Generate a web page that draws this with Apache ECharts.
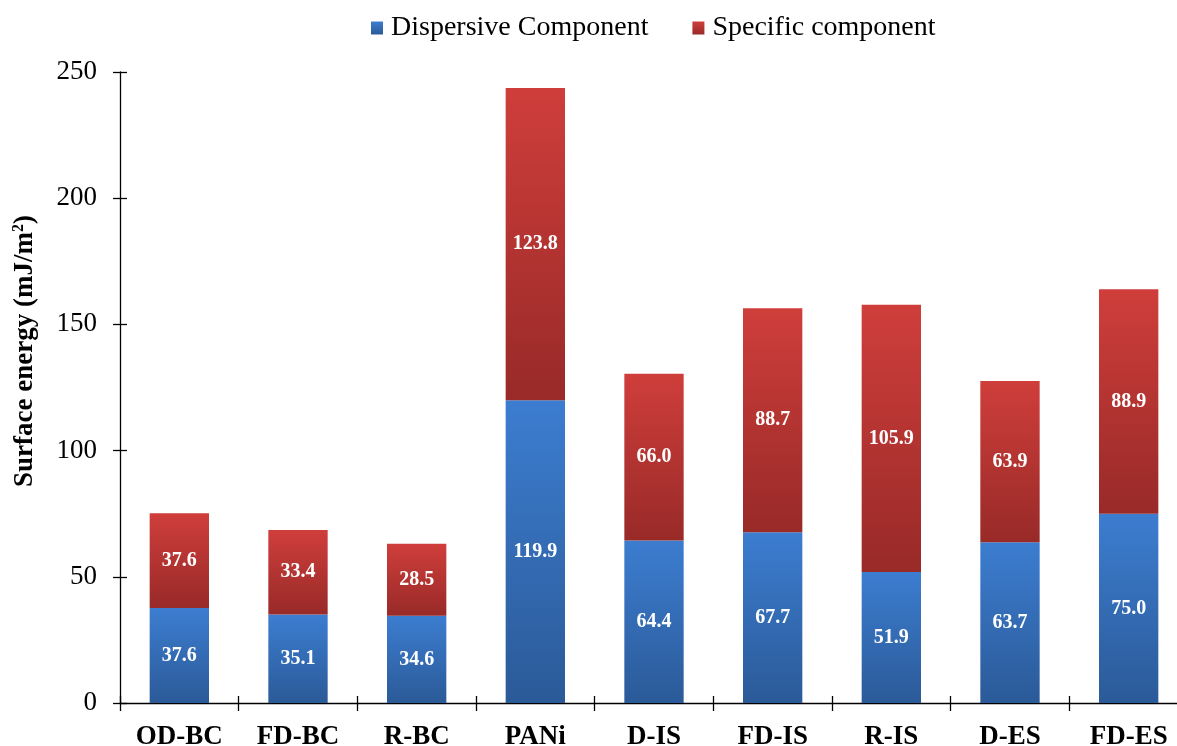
<!DOCTYPE html>
<html>
<head>
<meta charset="utf-8">
<script src="https://cdn.jsdelivr.net/npm/echarts@6/dist/echarts.min.js"></script>
<style>
  html, body { margin: 0; padding: 0; background: #fff; }
  #chart { width: 1177px; height: 746px; }
</style>
</head>
<body>
<div id="chart"></div>
<script>
// Surface energy split into dispersive and specific parts per sample
const categories = ['OD-BC', 'FD-BC', 'R-BC', 'PANi', 'D-IS', 'FD-IS', 'R-IS', 'D-ES', 'FD-ES'];
const dispersive = [37.6, 35.1, 34.6, 119.9, 64.4, 67.7, 51.9, 63.7, 75.0];
const specific = [37.6, 33.4, 28.5, 123.8, 66.0, 88.7, 105.9, 63.9, 88.9];
const seriesNames = ['Dispersive Component', 'Specific component'];
const yTicks = [0, 50, 100, 150, 200, 250];

const FONT = '"Liberation Serif", "Times New Roman", serif';
const GRID = { left: 120, top: 72, width: 1068, height: 631 };

function grad(top, bottom) {
  return new echarts.graphic.LinearGradient(0, 0, 0, 1, [
    { offset: 0, color: top },
    { offset: 1, color: bottom }
  ]);
}

const chart = echarts.init(document.getElementById('chart'), null, { renderer: 'canvas' });

const labelStyle = {
  show: true,
  position: 'inside',
  color: '#ffffff',
  fontFamily: FONT,
  fontWeight: 'bold',
  fontSize: 20,
  formatter: p => p.value.toFixed(1)
};

const tickLine = { color: '#000', width: 1.3 };

const yBase = {
  type: 'value',
  min: yTicks[0],
  max: yTicks[yTicks.length - 1],
  interval: 50,
  splitLine: { show: false }
};

chart.setOption({
  animation: false,
  backgroundColor: '#ffffff',
  textStyle: { fontFamily: FONT },
  legend: {
    top: 9,
    left: 366,
    itemWidth: 12,
    itemHeight: 13,
    itemGap: 44,
    icon: 'rect',
    textStyle: { fontFamily: FONT, fontSize: 28, color: '#000', padding: [0, 0, 0, 3] },
    data: seriesNames
  },
  // the plot runs past the right edge of the page, so keep the grid box as given
  grid: Object.assign({ containLabel: false, outerBoundsMode: 'none' }, GRID),
  xAxis: [
    {
      type: 'category',
      data: categories,
      axisLine: { show: true, lineStyle: tickLine },
      axisTick: { show: true, alignWithLabel: false, length: 8, lineStyle: tickLine },
      axisLabel: {
        color: '#000',
        fontFamily: FONT,
        fontWeight: 'bold',
        fontSize: 27,
        margin: 21
      }
    },
    // upper half of the crossing tick marks on the category axis
    {
      type: 'category',
      data: categories,
      position: 'top',
      offset: -GRID.height,
      axisLine: { show: false },
      axisTick: { show: true, alignWithLabel: false, length: 7, lineStyle: tickLine },
      axisLabel: { show: false }
    }
  ],
  yAxis: [
    Object.assign({}, yBase, {
      position: 'left',
      axisLine: { show: true, lineStyle: tickLine },
      axisTick: { show: true, length: 7, lineStyle: tickLine },
      axisLabel: { color: '#000', fontFamily: FONT, fontSize: 27, margin: 23 }
    }),
    // right-hand half of the crossing tick marks on the value axis
    Object.assign({}, yBase, {
      position: 'right',
      offset: -GRID.width,
      axisLine: { show: false },
      axisTick: { show: true, length: 7, lineStyle: tickLine },
      axisLabel: { show: false }
    })
  ],
  graphic: [{
    type: 'text',
    left: 11,
    top: 215,
    rotation: Math.PI / 2,
    style: {
      rich: {
        b: { fontFamily: FONT, fontWeight: 'bold', fontSize: 27, fill: '#000' },
        s: { fontFamily: FONT, fontWeight: 'bold', fontSize: 16, fill: '#000', verticalAlign: 'top', padding: [0, 0, 12, 0] }
      },
      text: '{b|Surface energy (mJ/m}{s|2}{b|)}'
    }
  }],
  series: [
    {
      name: seriesNames[0],
      type: 'bar',
      stack: 'total',
      barWidth: '50%',
      data: dispersive,
      itemStyle: { color: grad('#3c7dd0', '#2b5a98') },
      label: labelStyle
    },
    {
      name: seriesNames[1],
      type: 'bar',
      stack: 'total',
      barWidth: '50%',
      data: specific,
      itemStyle: { color: grad('#cf3e3b', '#982a28') },
      label: labelStyle
    }
  ]
});
</script>
</body>
</html>
